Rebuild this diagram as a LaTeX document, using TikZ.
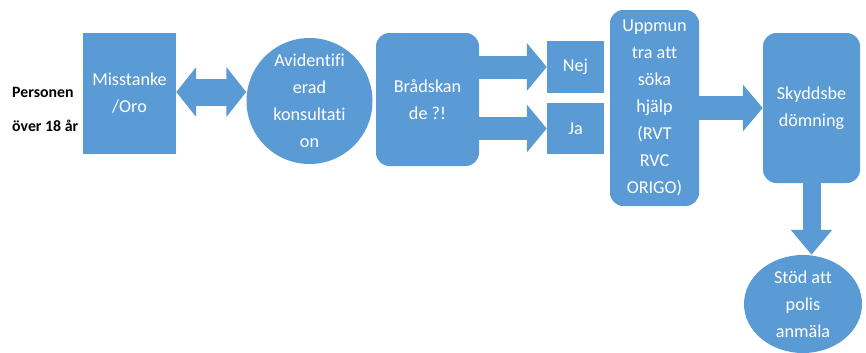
\documentclass[tikz,border=0pt]{standalone}
\usepackage{fontspec}
\setmainfont{Carlito}[Ligatures=NoCommon]
\usetikzlibrary{positioning,shapes.geometric,arrows.meta}
\definecolor{boxblue}{RGB}{91,155,213}

\begin{document}
\begin{tikzpicture}[x=0.03cm,y=-0.03cm,
  box/.style={fill=boxblue,text=white,inner sep=0pt,align=center,font=\fontsize{15.5}{23}\selectfont},
  rbox/.style={box,rounded corners=0.4cm},
  oval/.style={box,ellipse},
  fat/.style={draw=boxblue,line width=#1}]
\useasboundingbox (0,0) rectangle (866,352);
\node[box,minimum width=2.79cm,minimum height=3.63cm] (miss) at (129.5,93.5) {Misstanke\\/Oro};
\node[box,circle,minimum size=3.78cm] (avid) at (309.5,101) {Avidentifi\\erad\\konsultati\\on};
\node[rbox,minimum width=3.09cm,minimum height=3.99cm] (brad) at (427.5,99.5) {Brådskan\\de ?!};
\node[box,minimum width=1.71cm,minimum height=1.56cm] (nej) at (575.5,67) {Nej};
\node[box,minimum width=1.71cm,minimum height=1.53cm] (ja) at (575.5,128.5) {Ja};
\node[rbox,minimum width=2.67cm,minimum height=5.88cm] (upp) at (654.5,108) {Uppmun\\tra att\\söka\\hjälp\\(RVT\\RVC\\ORIGO)};
\node[rbox,minimum width=2.91cm,minimum height=4.5cm] (skydd) at (811.5,108) {Skyddsbe\\dömning};
\node[oval,minimum width=3.54cm,minimum height=2.94cm] (stod) at (803,304) {Stöd att\\polis\\anmäla};
\node[anchor=west,align=left,inner sep=0pt,font=\fontsize{13.5}{29}\selectfont\bfseries] (pers) at (12,109) {Personen\\över 18 år};

\draw[fat=0.81cm,{Triangle[length=0.6cm 0,width=1.47cm 0]}-{Triangle[length=0.6cm 0,width=1.47cm 0]}] (miss.east |- 0,92) -- (avid.west |- 0,92);
\draw[fat=0.69cm,-{Triangle[length=0.6cm 0,width=1.41cm 0]}] (brad.east |- nej) -- (nej.west);
\draw[fat=0.69cm,-{Triangle[length=0.6cm 0,width=1.41cm 0]}] (brad.east |- ja) -- (ja.west);
\draw[fat=0.72cm,-{Triangle[length=0.6cm 0,width=1.38cm 0]}] (upp) -- (skydd);
\draw[fat=0.54cm,-{Triangle[length=0.75cm 0,width=1.2cm 0]}] (skydd.south) -- (skydd.south |- stod.north);
\end{tikzpicture}
\end{document}
